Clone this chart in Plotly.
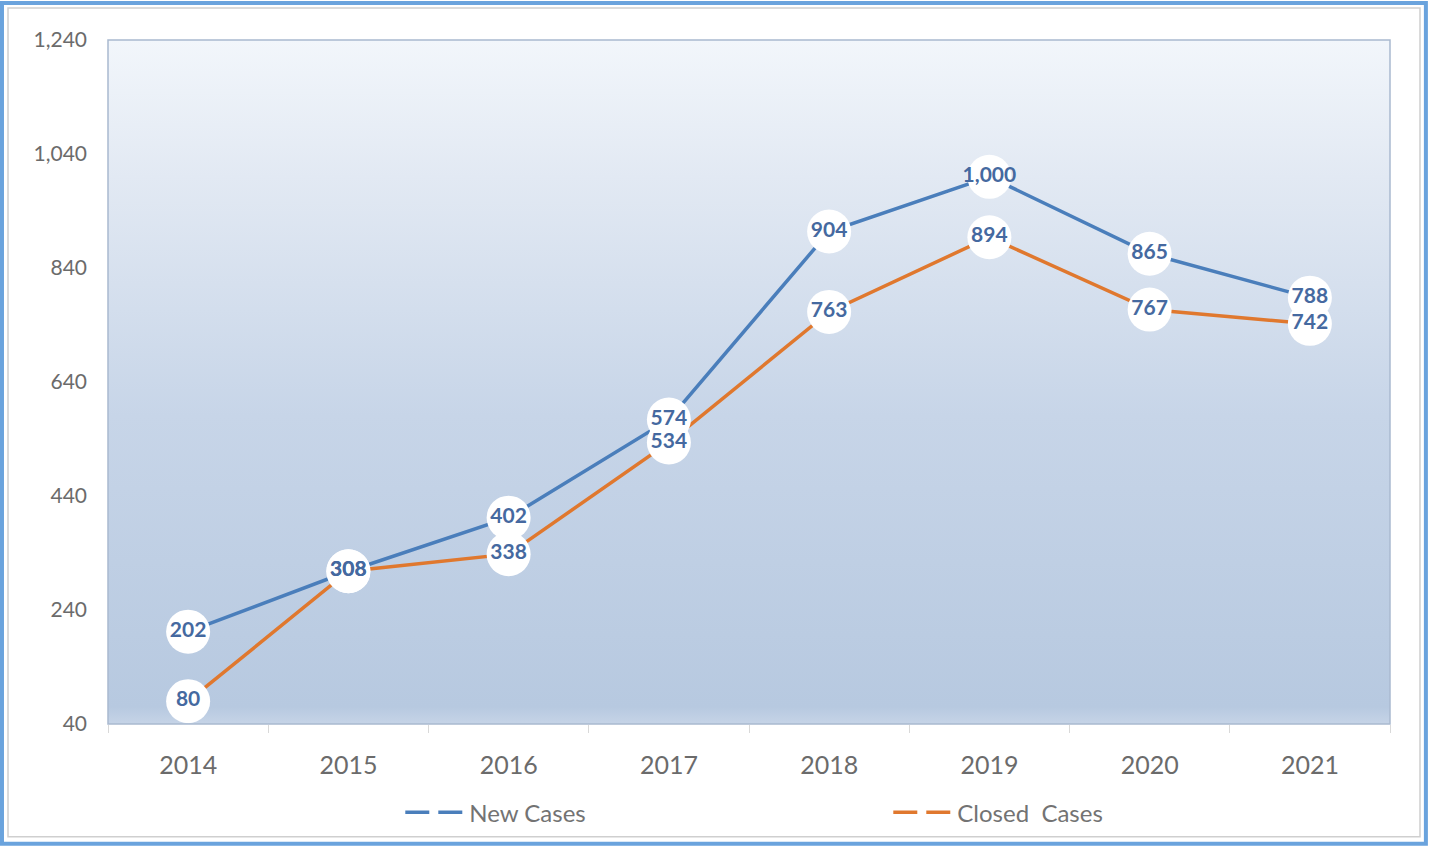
import plotly.graph_objects as go

years = ["2014", "2015", "2016", "2017", "2018", "2019", "2020", "2021"]
new_cases = [202, 308, 402, 574, 904, 1000, 865, 788]
closed_cases = [80, 308, 338, 534, 763, 894, 767, 742]
y_ticks = [40, 240, 440, 640, 840, 1040, 1240]
y_range = [40, 1240]

BLUE = "#4a7ebb"
ORANGE = "#e0782e"
LABEL = "#4569a0"
TICK = "#6b6b6b"
FONT = "Lato, 'Open Sans', sans-serif"

fig = go.Figure()

# gradient background of plot area (on hidden linear x axis underneath)
fig.add_trace(go.Scatter(
    x=[0, 1, 1, 0, 0], y=[y_range[0], y_range[0], y_range[1], y_range[1], y_range[0]],
    xaxis="x", yaxis="y",
    mode="lines", line=dict(width=0), fill="toself",
    fillgradient=dict(type="vertical",
                      colorscale=[[0, "#c6d4e7"], [0.025, "#b7c9e0"], [0.45, "#c7d5e8"],
                                  [0.8, "#e2e9f3"], [1, "#f2f6fb"]]),
    hoverinfo="skip", showlegend=False))

for vals, col in [(new_cases, BLUE), (closed_cases, ORANGE)]:
    fig.add_trace(go.Scatter(x=years, y=vals, xaxis="x2", yaxis="y", mode="lines",
                             line=dict(color=col, width=3.5), showlegend=False, hoverinfo="skip"))
for vals in [new_cases, closed_cases]:
    fig.add_trace(go.Scatter(x=years, y=vals, xaxis="x2", yaxis="y", mode="markers",
                             marker=dict(size=44, color="white", line=dict(width=0)),
                             showlegend=False, hoverinfo="skip"))
for vals in [new_cases, closed_cases]:
    fig.add_trace(go.Scatter(x=years, y=vals, xaxis="x2", yaxis="y", mode="text",
                             text=[f"{v:,}" for v in vals], textposition="middle center",
                             textfont=dict(family=FONT, size=21, color=LABEL, weight="bold"),
                             showlegend=False, hoverinfo="skip"))

# legend entries
fig.add_trace(go.Scatter(x=[None], y=[None], xaxis="x2", yaxis="y", mode="lines", name="New Cases",
                         line=dict(color=BLUE, width=3.5, dash="24px,9px")))
fig.add_trace(go.Scatter(x=[None], y=[None], xaxis="x2", yaxis="y", mode="lines", name="Closed  Cases",
                         line=dict(color=ORANGE, width=3.5, dash="24px,9px")))

fig.update_layout(
    width=1429, height=846,
    margin=dict(l=108, r=39, t=40, b=121),
    paper_bgcolor="white", plot_bgcolor="rgba(0,0,0,0)",
    font=dict(family=FONT, color=TICK),
    legend=dict(orientation="h", x=0.228, xanchor="left", y=-0.128, yanchor="middle",
                font=dict(size=24, color="#737373"), itemwidth=59,
                entrywidth=414, entrywidthmode="pixels", bgcolor="rgba(0,0,0,0)"),
    xaxis=dict(range=[0, 1], visible=False, fixedrange=True),
    xaxis2=dict(type="category", overlaying="x", side="bottom", range=[-0.5, 7.5],
                showgrid=False, zeroline=False, showline=False, ticks="outside", ticklen=8,
                tickcolor="#d9d9d9", tickson="boundaries", tickfont=dict(size=25, color=TICK),
                ticklabelstandoff=24),
    yaxis=dict(range=y_range, tickvals=y_ticks, tickformat=",d", showgrid=False,
               zeroline=False, showline=False, tickfont=dict(size=21, color=TICK),
               ticklabelstandoff=20),
    shapes=[
        dict(type="rect", xref="x domain", yref="y domain", x0=0, x1=1, y0=0, y1=1,
             line=dict(color="#a9b9cf", width=1.5), fillcolor="rgba(0,0,0,0)", layer="above"),
        dict(type="rect", xref="paper", yref="paper", x0=-0.078, x1=1.0234, y0=-0.165, y1=1.0467,
             line=dict(color="#cfcfcf", width=1.5), fillcolor="rgba(0,0,0,0)"),
        dict(type="rect", xref="paper", yref="paper", x0=-0.0827, x1=1.028, y0=-0.175, y1=1.054,
             line=dict(color="#6aa3dd", width=4), fillcolor="rgba(0,0,0,0)"),
    ],
)

fig.write_html("out.html", config={"displayModeBar": False},
               post_script="document.body.style.margin='0';")
